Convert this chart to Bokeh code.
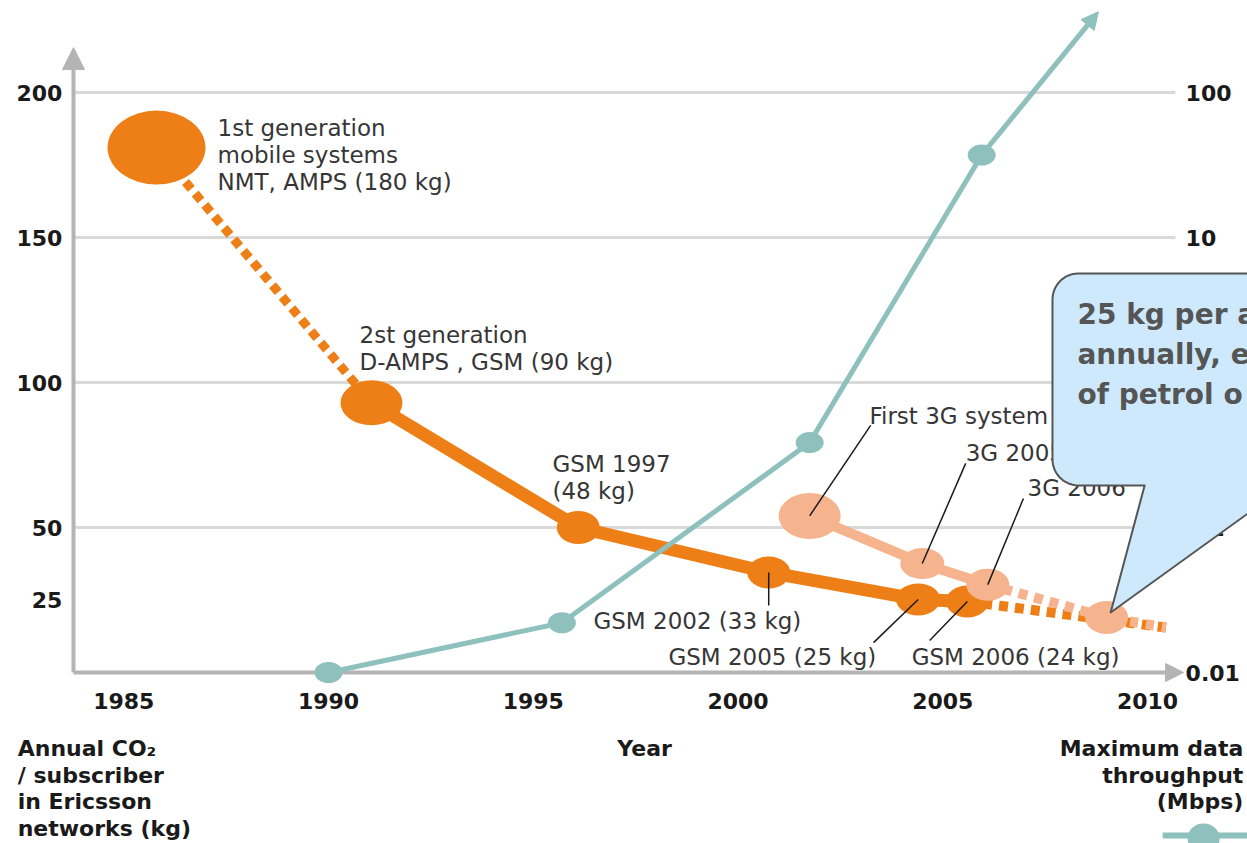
import math
from bokeh.plotting import figure
from bokeh.models import Range1d, LogScale, Arrow, NormalHead
from bokeh.core.properties import value
from bokeh.embed import file_html
from bokeh.resources import INLINE

# ---------------- data ----------------
co2_years = [1985.8, 1991.05, 1996.1, 2000.75, 2004.4, 2005.6]
co2_kg = [181.0, 93.0, 50.0, 34.5, 25.2, 24.5]
proj_years = [2005.6, 2010.45]
proj_kg = [24.5, 15.5]
g3_years = [2001.75, 2004.5, 2006.1]
g3_kg = [54.0, 37.6, 30.3]
g3_target_year = [2009.0]
g3_target_kg = [19.0]
g3_proj_years = [2009.0, 2010.45]
g3_proj_kg = [19.0, 15.5]
tp_years = [1990, 1995.7, 2001.75, 2005.95]
tp_mbps = [0.01, 0.022, 0.385, 37.0]
tp_trend_year = 2008.8
tp_trend_mbps = 360.0

year_ticks = [1985, 1990, 1995, 2000, 2005, 2010]
year_labels = ["1985", "1990", "1995", "2000", "2005", "2010"]
kg_ticks = [25, 50, 100, 150, 200]
kg_labels = ["25", "50", "100", "150", "200"]
kg_grid = [50, 100, 150, 200]
mbps_ticks = [100, 10, 1, 0.1, 0.01]
mbps_labels = ["100", "10", "1", "0.1", "0.01"]

# ---------------- layout / style ----------------
W, H = 1247, 843
PX_YEAR = 40.95
PX_KG = 2.9
X0 = 1990 - 328 / PX_YEAR
X1 = X0 + W / PX_YEAR
Y1 = 672 / PX_KG
Y0 = Y1 - H / PX_KG


def kg_to_mbps(v):
    return 10 ** ((v - 200) / 50 + 2)


ORANGE = "#ee7f16"
LIGHT = "#f5b48e"
TEAL = "#8ec0bd"
GRID = "#d9d9d9"
AXIS = "#b4b4b4"
TXT = "#363636"
DARK = "#1a1a1a"
FONT = value("DejaVu Sans")

p = figure(width=W, height=H, x_range=Range1d(X0, X1), y_range=Range1d(Y0, Y1),
           output_backend="svg", toolbar_location=None, tools="",
           x_axis_location=None, y_axis_location=None, min_border=0,
           outline_line_color=None, background_fill_color="white",
           border_fill_color="white")
p.extra_y_ranges = {"r": Range1d(kg_to_mbps(Y0), kg_to_mbps(Y1))}
p.extra_y_scales = {"r": LogScale()}
p.xgrid.visible = False
p.ygrid.visible = False

axis_x = X0 + 73 / PX_YEAR
grid_end = 2010.68

# gridlines
p.segment(x0=[axis_x] * len(kg_grid), y0=kg_grid, x1=[grid_end] * len(kg_grid), y1=kg_grid,
          line_color=GRID, line_width=3, level="underlay")

# axis arrows
p.add_layout(Arrow(end=NormalHead(size=22, fill_color=AXIS, line_color=AXIS),
                   x_start=axis_x, y_start=0, x_end=axis_x, y_end=215.5,
                   line_color=AXIS, line_width=4, level="underlay"))
p.add_layout(Arrow(end=NormalHead(size=18, fill_color=AXIS, line_color=AXIS),
                   x_start=axis_x, y_start=0, x_end=2010.88, y_end=0,
                   line_color=AXIS, line_width=4, level="underlay"))

# CO2 lines
p.line(co2_years[:2], co2_kg[:2], line_color=ORANGE, line_width=9, line_dash="9 6")
p.line(co2_years[1:], co2_kg[1:], line_color=ORANGE, line_width=13, line_join="round")
p.line(proj_years, proj_kg, line_color=ORANGE, line_width=10, line_dash="9 7")
p.line([g3_years[-1], g3_target_year[0]], [g3_kg[-1], g3_target_kg[0]],
       line_color=LIGHT, line_width=10, line_dash="9 7")
p.line(g3_proj_years, g3_proj_kg, line_color=LIGHT, line_width=10, line_dash="8 8",
       line_dash_offset=8)
p.line(g3_years, g3_kg, line_color=LIGHT, line_width=10, line_join="round")

# CO2 points
co2_w = [98, 62, 43, 43, 44, 43]
co2_h = [74, 45, 33, 32, 32, 32]
p.ellipse(co2_years, co2_kg, width=co2_w, height=co2_h, width_units="screen",
          height_units="screen", fill_color=ORANGE, line_color=None)
g3_w = [62, 44, 43]
g3_h = [46, 31, 32]
p.ellipse(g3_years, g3_kg, width=g3_w, height=g3_h, width_units="screen",
          height_units="screen", fill_color=LIGHT, line_color=None)
p.ellipse(g3_target_year, g3_target_kg, width=43, height=33, width_units="screen",
          height_units="screen", fill_color=LIGHT, line_color=None)

# throughput (right log axis)
p.line(tp_years, tp_mbps, y_range_name="r", line_color=TEAL, line_width=5)
p.add_layout(Arrow(end=NormalHead(size=17, fill_color=TEAL, line_color=TEAL),
                   x_start=tp_years[-1], y_start=tp_mbps[-1],
                   x_end=tp_trend_year, y_end=tp_trend_mbps, y_range_name="r",
                   line_color=TEAL, line_width=5))
p.ellipse(tp_years, tp_mbps, y_range_name="r", width=28, height=21,
          width_units="screen", height_units="screen", fill_color=TEAL, line_color=None)

# leader lines
lead_x0 = [co2_years[3], co2_years[4], co2_years[5], g3_years[0], g3_years[1], g3_years[2]]
lead_y0 = [co2_kg[3], co2_kg[4], co2_kg[5], g3_kg[0], g3_kg[1], g3_kg[2]]
lead_x1 = [co2_years[3], 2003.31, 2004.68, 2003.24, 2005.56, 2006.97]
lead_y1 = [23.1, 10.3, 11.0, 85.2, 72.1, 60.0]
p.segment(x0=lead_x0, y0=lead_y0, x1=lead_x1, y1=lead_y1, line_color=DARK, line_width=1.5)

# annotation texts
LINE_KG = 27 / PX_KG
blocks = [
    (1987.29, 187.6, ["1st generation", "mobile systems", "NMT, AMPS (180 kg)"]),
    (1990.76, 116.4, ["2st generation", "D-AMPS , GSM (90 kg)"]),
    (1995.47, 71.9, ["GSM 1997", "(48 kg)"]),
    (1996.47, 17.6, ["GSM 2002 (33 kg)"]),
    (1998.30, 5.5, ["GSM 2005 (25 kg)"]),
    (2004.24, 5.5, ["GSM 2006 (24 kg)"]),
    (2003.21, 88.6, ["First 3G system"]),
    (2005.56, 75.7, ["3G 2005"]),
    (2007.07, 63.6, ["3G 2006"]),
]
ax, ay, at = [], [], []
for bx, by, lines in blocks:
    for i, t in enumerate(lines):
        ax.append(bx)
        ay.append(by - i * LINE_KG)
        at.append(t)
p.text(x=ax, y=ay, text=at, text_font=FONT, text_font_size="23px",
       text_color=TXT, text_align="left", text_baseline="middle")

# right-axis tick labels (log scale)
p.text(x=[2010.93] * len(mbps_ticks), y=mbps_ticks, text=mbps_labels, y_range_name="r",
       text_font=FONT, text_font_size="22px", text_font_style="bold",
       text_color=DARK, text_align="left", text_baseline="middle")

# callout
co_left, co_right, co_top, co_bot = 2007.68, 2014.8, 137.6, 64.5
rx, ry = 26 / PX_YEAR, 26 / PX_KG
tip_x, tip_y = 2009.1, 20.7
base_l, base_r = 2009.93, 2013.4
cx_pts, cy_pts = [], []


def arc(cx, cy, a0, a1, n=12):
    for i in range(n + 1):
        a = math.radians(a0 + (a1 - a0) * i / n)
        cx_pts.append(cx + rx * math.cos(a))
        cy_pts.append(cy + ry * math.sin(a))


arc(co_left + rx, co_top - ry, 180, 90)
arc(co_right - rx, co_top - ry, 90, 0)
arc(co_right - rx, co_bot + ry, 0, -90)
cx_pts += [base_r, tip_x, base_l]
cy_pts += [co_bot, tip_y, co_bot]
arc(co_left + rx, co_bot + ry, -90, -180)
p.patch(cx_pts, cy_pts, fill_color="#cde9fb", line_color="#555555", line_width=2,
        line_join="round")

call_lines = ["25 kg per a", "annually, e", "of petrol o"]
call_y = [123.4, 109.7, 95.9]
p.text(x=[2008.29] * 3, y=call_y, text=call_lines, text_font=FONT, text_font_size="28px",
       text_font_style="bold", text_color="#555555", text_align="left",
       text_baseline="middle")

# left-axis tick labels
p.text(x=[1983.50] * len(kg_ticks), y=kg_ticks, text=kg_labels, text_font=FONT,
       text_font_size="22px", text_font_style="bold", text_color=DARK,
       text_align="right", text_baseline="middle")

# x-axis tick labels
p.text(x=year_ticks, y=[-9.8] * len(year_ticks), text=year_labels, text_font=FONT,
       text_font_size="22px", text_font_style="bold", text_color=DARK,
       text_align="center", text_baseline="middle")

# axis titles
TITLE_STEP = 26.7 / PX_KG
p.text(x=[1997.72], y=[-26.2], text=["Year"], text_font=FONT, text_font_size="22px",
       text_font_style="bold", text_color=DARK, text_align="center", text_baseline="middle")
left_title = ["Annual CO\u2082", "/ subscriber", "in Ericsson", "networks (kg)"]
p.text(x=[1982.41] * 4, y=[-26.2 - i * TITLE_STEP for i in range(4)], text=left_title,
       text_font=FONT, text_font_size="22px", text_font_style="bold", text_color=DARK,
       text_align="left", text_baseline="middle")
right_title = ["Maximum data", "throughput", "(Mbps)"]
p.text(x=[2012.34] * 3, y=[-26.2 - i * TITLE_STEP for i in range(3)], text=right_title,
       text_font=FONT, text_font_size="22px", text_font_style="bold", text_color=DARK,
       text_align="right", text_baseline="middle")

# legend swatch (bottom right, cut by the page edge)
p.line([2010.37, 2012.5], [-56.2, -56.2], line_color=TEAL, line_width=6)
p.ellipse([2011.37], [-57.2], width=32, height=30, width_units="screen",
          height_units="screen", fill_color=TEAL, line_color=None)

open("out.html", "w").write(file_html(p, INLINE))
